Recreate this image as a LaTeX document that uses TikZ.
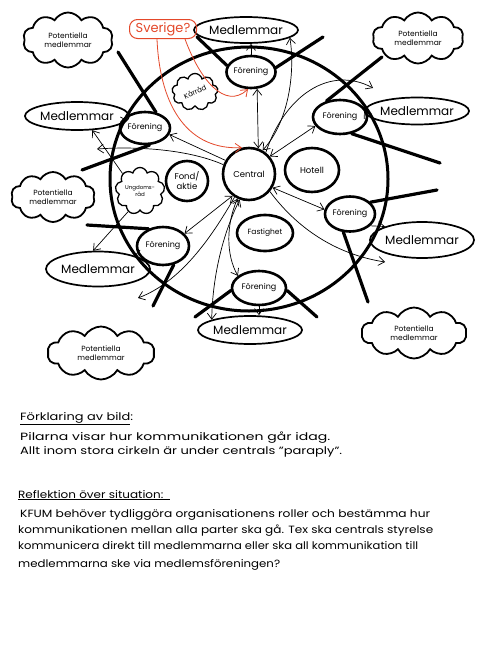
\documentclass[tikz,border=0pt]{standalone}
\usepackage{fontspec}
\setmainfont{Poppins}
\usepackage{graphicx}
\usetikzlibrary{shapes.geometric,shapes.symbols,arrows.meta}
\definecolor{redpen}{RGB}{228,72,42}
\newcommand\wline[2]{\resizebox{#1pt}{\height}{#2}}
\begin{document}
\begin{tikzpicture}[x=1pt,y=-1pt,
  every node/.style={inner sep=0pt, align=center},
  fnode/.style={ellipse, draw, line width=2.6pt, font=\fontsize{8}{9}\selectfont},
  inode/.style={ellipse, draw, line width=2.6pt, font=\fontsize{8.5}{10}\selectfont},
  mnode/.style={ellipse, draw, line width=1.7pt, font=\fontsize{12}{13}\selectfont},
  pcloud/.style={cloud, draw, line width=1.8pt, cloud puffs=10, cloud puff arc=120, font=\fontsize{7.5}{9}\selectfont},
  slash/.style={line width=3.2pt, line cap=round},
  tip/.tip={Straight Barb[length=6pt,width=9pt]},
  arr/.style={line width=0.7pt, -tip},
  darr/.style={line width=0.7pt, tip-tip},
  redarr/.style={line width=0.8pt, draw=redpen, -{Straight Barb[length=6pt,width=9pt]}},
  txt/.style={anchor=base west, font=\fontsize{10.5}{12}\selectfont}
]
\useasboundingbox (0,0) rectangle (494,648);
\fill[white] (0,0) rectangle (494,648);

% big circle
\draw[line width=3pt] (249,179) ellipse [x radius=139pt, y radius=132pt];

% inner nodes
\node[inode, minimum width=52pt, minimum height=52pt] (central) at (249,174) {Central};
\node[inode, minimum width=54pt, minimum height=44pt] (hotell) at (312,170) {Hotell};
\node[inode, minimum width=42pt, minimum height=40pt] (fond) at (187,181) {Fond/\\aktie};
\node[inode, minimum width=56pt, minimum height=36pt, font=\fontsize{7.5}{9}\selectfont] (fast) at (265,233) {Fastighet};

% foreningar
\node[fnode, minimum width=48pt, minimum height=32pt] (fT) at (251,72) {Förening};
\node[fnode, minimum width=50pt, minimum height=32pt] (fLU) at (145,128) {Förening};
\node[fnode, minimum width=54pt, minimum height=34pt] (fRU) at (340,117) {Förening};
\node[fnode, minimum width=50pt, minimum height=35pt] (fRL) at (350,214) {Förening};
\node[fnode, minimum width=52pt, minimum height=38pt] (fLL) at (163,246) {Förening};
\node[fnode, minimum width=54pt, minimum height=34pt] (fB) at (259,288) {Förening};

% medlemmar
\node[mnode, minimum width=78pt, minimum height=26pt] (mT) at (246,30) {Medlemmar};
\node[mnode, minimum width=80pt, minimum height=28pt] (mLU) at (77,116) {Medlemmar};
\node[mnode, minimum width=80pt, minimum height=27pt] (mRU) at (417,111) {Medlemmar};
\node[mnode, minimum width=78pt, minimum height=36pt] (mRL) at (422,240) {Medlemmar};
\node[mnode, minimum width=84pt, minimum height=35pt] (mLL) at (98,269) {Medlemmar};
\node[mnode, minimum width=84pt, minimum height=28pt] (mB) at (250,330) {Medlemmar};

% potentiella medlemmar clouds
\node[pcloud, minimum width=90pt, minimum height=55pt, aspect=1.6] (pTL) at (68,40) {Potentiella\\medlemmar};
\node[pcloud, minimum width=91pt, minimum height=51pt, aspect=1.8] (pTR) at (418,38) {Potentiella\\medlemmar};
\node[pcloud, minimum width=84pt, minimum height=50pt, aspect=1.7] (pL) at (53,197) {Potentiella\\medlemmar};
\node[pcloud, minimum width=107pt, minimum height=53pt, aspect=2] (pBL) at (101,353) {Potentiella\\medlemmar};
\node[pcloud, minimum width=105pt, minimum height=51pt, aspect=2] (pBR) at (414,333) {Potentiella\\medlemmar};

% small clouds
\node[cloud, draw, line width=1.3pt, cloud puffs=9, minimum width=46pt, minimum height=37pt, aspect=1.2, font=\fontsize{7}{8}\selectfont] (kar) at (195,92) {\rotatebox{25}{Kårråd}};
\node[cloud, draw, line width=1.3pt, cloud puffs=9, minimum width=40pt, minimum height=34pt, aspect=1.1, font=\fontsize{5.5}{6.5}\selectfont] (ung) at (140,191) {Ungdoms-\\råd};

% Sverige?
\node[draw=redpen, rounded corners=8pt, line width=1pt, minimum width=67pt, minimum height=19pt, text=redpen, font=\fontsize{13}{14}\selectfont] (sv) at (163,29) {Sverige?};

% free ends
\coordinate (e5) at (385,262);
\coordinate (e6) at (373,88);
\coordinate (e17) at (138,298);
\coordinate (e20) at (97,149);
\coordinate (cT1) at (197,37);
\coordinate (cT2) at (323,37);
\coordinate (cLU1) at (118,52);
\coordinate (cLU2) at (82,170);
\coordinate (cRU1) at (382,57);
\coordinate (cRU2) at (440,163);
\coordinate (cRL1) at (437,190);
\coordinate (cRL2) at (368,302);
\coordinate (cLL1) at (87,225);
\coordinate (cLL2) at (153,306);
\coordinate (cB1) at (195,317);
\coordinate (cB2) at (317,317);

% thick slashes
\draw[slash] (cT1) -- (fT.165);
\draw[slash] (fT.10) -- (cT2);
\draw[slash] (cLU1) -- (fLU.55);
\draw[slash] (fLU.-75) -- (cLU2);
\draw[slash] (cRU1) -- (fRU.130);
\draw[slash] (fRU.-55) -- (cRU2);
\draw[slash] (fRL.30) -- (cRL1);
\draw[slash] (fRL.-110) -- (cRL2);
\draw[slash] (cLL1) -- (fLL.130);
\draw[slash] (fLL.-60) -- (cLL2);
\draw[slash] (fB.185) -- (cB1);
\draw[slash] (fB.-5) -- (cB2);

% thin arrows
\draw[darr] (fT.-70) -- (central.70);
\draw[arr] (central.150) -- (fLU.-15);
\draw[darr] (central.40) -- (fRU.200);
\draw[darr] (central.-30) -- (fRL.170);
\draw[arr] (central.-40) .. controls (300,232) and (340,255) .. (e5);
\draw[arr] (central.52) .. controls (285,95) and (330,65) .. (e6);
\draw[darr] (mT.-10) .. controls (295,70) and (290,120) .. (central.60);
\draw[arr] (fT.north) -- (fT.north |- mT.south);
\draw[arr] (fLU.165) -- (mLU.-5);
\draw[arr] (fRU.east) -- (mRU.west);
\draw[arr] (fRL.-30) -- (mRL.160);
\draw[arr] (fLL.200) -- (mLL.20);
\draw[arr] (fB.south) -- (fB.south |- mB.north);
\draw[arr] (ung.240) -- (mLL.105);
\draw[arr] (ung.135) -- (mLU.-43);
\draw[darr] (central.-127) -- (fLL.30);
\draw[arr] (central.-122) .. controls (210,240) and (180,282) .. (e17);
\draw[darr] (central.-115) .. controls (226,225) and (226,255) .. (fB.150);
\draw[darr] (central.-110) .. controls (215,250) and (212,300) .. (mB.165);
\draw[arr] (central.160) .. controls (190,150) and (140,146) .. (e20);

% red arrows
\draw[redarr] ([xshift=-12pt]sv.south east) .. controls (200,80) and (225,110) .. (fT.-100);
\draw[redarr] ([xshift=-6pt]sv.south) .. controls (160,110) and (190,150) .. (central.105);

% text
\node[txt] (t1) at (20,420) {\wline{113}{\underline{Förklaring av bild}:}};
\node[txt] (t2) at (20,440) {\wline{310}{Pilarna visar hur kommunikationen går idag.}};
\node[txt] (t3) at (20,454) {\wline{322}{Allt inom stora cirkeln är under centrals "paraply".}};
\node[txt] (t4) at (18,498) {\wline{152}{\underline{Reflektion över situation:\hspace{6pt}}}};
\node[txt] (t5) at (20,517) {\wline{410}{KFUM behöver tydliggöra organisationens roller och bestämma hur}};
\node[txt] (t6) at (18,533) {\wline{415}{kommunikationen mellan alla parter ska gå. Tex ska centrals styrelse}};
\node[txt] (t7) at (18,549) {\wline{400}{kommunicera direkt till medlemmarna eller ska all kommunikation till}};
\node[txt] (t8) at (18,567) {\wline{262}{medlemmarna ske via medlemsföreningen?}};
\end{tikzpicture}
\end{document}
